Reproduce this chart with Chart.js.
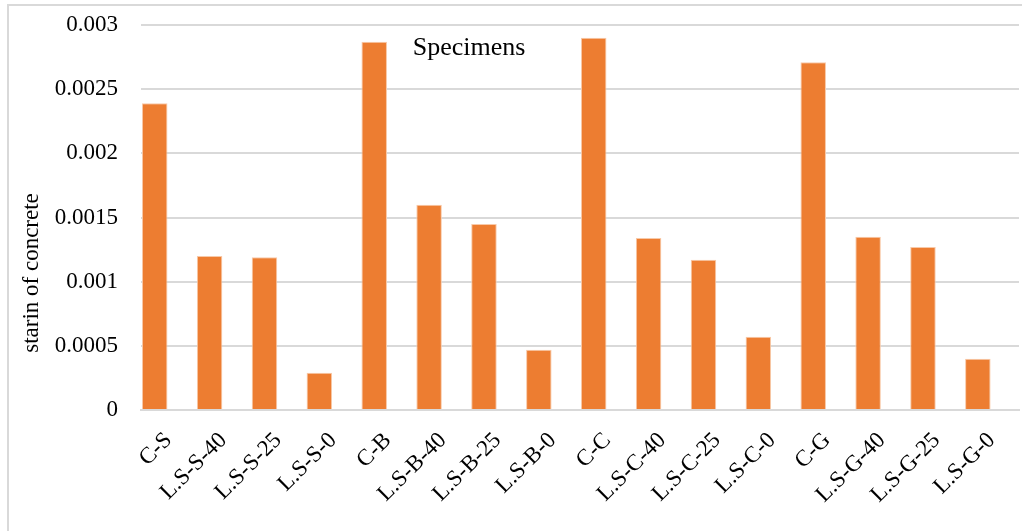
<!DOCTYPE html>
<html>
<head>
<meta charset="utf-8">
<script src="https://cdn.jsdelivr.net/npm/chart.js@4"></script>
<style>
  html, body { margin: 0; padding: 0; background: #ffffff; }
  #wrap { position: relative; width: 1022px; height: 531px; overflow: hidden; }
  #frame { position: absolute; left: 7px; top: 4px; width: 1100px; height: 600px;
           border-left: 2px solid #d9d9d9; border-top: 2px solid #d9d9d9; box-sizing: border-box; }
  canvas { position: absolute; left: 0; top: 0; }
</style>
</head>
<body>
<div id="wrap">
  <div id="frame"></div>
  <canvas id="c" width="1022" height="531"></canvas>
</div>
<script>
const specimens = ['C-S', 'L.S-S-40', 'L.S-S-25', 'L.S-S-0',
                   'C-B', 'L.S-B-40', 'L.S-B-25', 'L.S-B-0',
                   'C-C', 'L.S-C-40', 'L.S-C-25', 'L.S-C-0',
                   'C-G', 'L.S-G-40', 'L.S-G-25', 'L.S-G-0'];
const strain = [0.00239, 0.00120, 0.00119, 0.00029,
                0.00287, 0.00160, 0.00145, 0.00047,
                0.00290, 0.00134, 0.00117, 0.00057,
                0.00271, 0.00135, 0.00127, 0.00040];
// second series of the workbook carries no values; it still takes its slot in each group
const emptySeries = [];
const yTicks = ['0', '0.0005', '0.001', '0.0015', '0.002', '0.0025', '0.003'];
const chartTitle = 'Specimens';
const yTitle = 'starin of concrete';

const serif = '"Liberation Serif", "Times New Roman", serif';

// Chart title inside the plot area, and the vertical axis title set low beside the ticks
const chartTexts = {
  id: 'chartTexts',
  afterDraw(chart) {
    const { ctx, chartArea } = chart;
    ctx.save();
    ctx.fillStyle = '#000000';
    ctx.textAlign = 'center';
    ctx.textBaseline = 'middle';
    ctx.font = '26px ' + serif;
    ctx.fillText(chartTitle, chartArea.left + 328, chartArea.top + 23);
    ctx.font = '23px ' + serif;
    ctx.translate(32, chartArea.top + 248);
    ctx.rotate(-Math.PI / 2);
    ctx.fillText(yTitle, 0, 0);
    ctx.restore();
  }
};

new Chart(document.getElementById('c'), {
  type: 'bar',
  data: {
    labels: specimens,
    datasets: [{
      data: strain,
      backgroundColor: '#ed7d31',
      borderColor: '#f8c9a8',
      borderWidth: { top: 1, left: 1, right: 1, bottom: 0 },
      barPercentage: 0.93,
      categoryPercentage: 1.0
    }, {
      data: emptySeries,
      backgroundColor: '#a5a5a5',
      barPercentage: 0.93,
      categoryPercentage: 1.0
    }]
  },
  options: {
    responsive: false,
    animation: false,
    devicePixelRatio: 1,
    layout: { padding: { top: 25, right: 3, left: 0, bottom: 0 } },
    plugins: {
      legend: { display: false },
      tooltip: { enabled: false },
      title: { display: false }
    },
    scales: {
      x: {
        grid: { display: false, drawTicks: false },
        border: { display: true, color: '#d9d9d9', width: 2 },
        ticks: {
          color: '#000000',
          font: { family: serif, size: 23 },
          maxRotation: 45,
          minRotation: 45,
          padding: 17,
          autoSkip: false
        },
        afterFit(axis) {
          axis.height = 121;
          axis.paddingLeft = 0;
          axis.paddingRight = 0;
        }
      },
      y: {
        min: 0,
        max: 0.003,
        grid: { color: '#d9d9d9', lineWidth: 2, drawTicks: false },
        border: { display: false },
        ticks: {
          stepSize: 0.0005,
          color: '#000000',
          font: { family: serif, size: 23 },
          padding: 23,
          callback: (v, i) => yTicks[i]
        },
        afterFit(axis) {
          axis.width = 141;
          axis.paddingTop = 0;
          axis.paddingBottom = 0;
        }
      }
    }
  },
  plugins: [chartTexts]
});
</script>
</body>
</html>
